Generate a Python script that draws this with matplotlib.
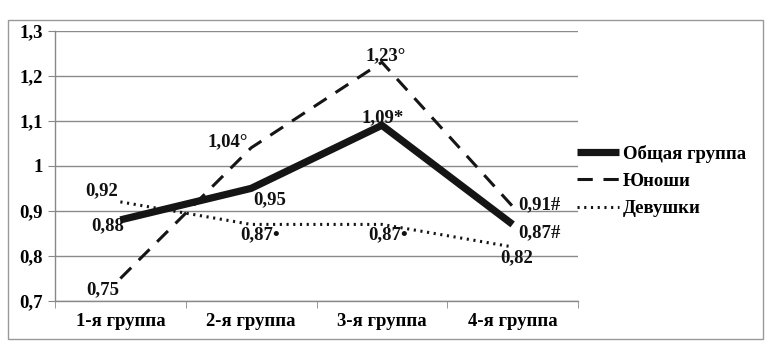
import matplotlib
matplotlib.use("Agg")
import matplotlib.pyplot as plt
from matplotlib.patches import Rectangle

categories = ["1-я группа", "2-я группа", "3-я группа", "4-я группа"]
series_names = ["Общая группа", "Юноши", "Девушки"]
obshaya = [0.88, 0.95, 1.09, 0.87]
yunoshi = [0.75, 1.04, 1.23, 0.91]
devushki = [0.92, 0.87, 0.87, 0.82]
labels_obshaya = ["0,88", "0,95", "1,09*", "0,87#"]
labels_yunoshi = ["0,75", "1,04°", "1,23°", "0,91#"]
labels_devushki = ["0,92", "0,87•", "0,87•", "0,82"]
yticks = [0.7, 0.8, 0.9, 1.0, 1.1, 1.2, 1.3]
ytick_labels = ["0,7", "0,8", "0,9", "1", "1,1", "1,2", "1,3"]

plt.rcParams['font.family'] = ['Liberation Serif', 'DejaVu Serif']
plt.rcParams['font.weight'] = 'bold'
FS = 13.5

fig = plt.figure(figsize=(7.77, 3.51), dpi=100)
ax = fig.add_axes([55/777, 1 - 301/351, (578-55)/777, (301-30.7)/351])

x = list(range(len(categories)))
lc = "#151515"
ax.plot(x, obshaya, color=lc, lw=5.2, solid_capstyle='butt', solid_joinstyle='miter', label=series_names[0], zorder=4)
ax.plot(x, yunoshi, color=lc, lw=2.2, dashes=(5, 3.5), label=series_names[1], zorder=3)
ax.plot(x, devushki, color=lc, lw=2.2, linestyle=(0, (0.7, 1.5)), dash_capstyle='butt', label=series_names[2], zorder=3)

ax.set_xlim(-0.5, len(categories) - 0.5)
ax.set_ylim(0.7, 1.3)
ax.set_yticks(yticks)
ax.set_yticklabels(ytick_labels, fontsize=FS, fontweight='bold')
ax.set_xticks(x)
ax.set_xticklabels(categories, fontsize=FS, fontweight='bold')
ax.set_xticks([i - 0.5 for i in range(len(categories) + 1)], minor=True)
ax.tick_params(axis='x', which='major', length=0, pad=9)
ax.tick_params(axis='x', which='minor', length=5, color='#888888', direction='out')
ax.tick_params(axis='y', length=5, color='#888888', pad=4)
ax.grid(axis='y', color='#8a8a8a', lw=1.0)
ax.set_axisbelow(True)
for s in ['top', 'right']:
    ax.spines[s].set_visible(False)
for s in ['left', 'bottom']:
    ax.spines[s].set_color('#888888')
    ax.spines[s].set_linewidth(1.0)

def label(vals, texts, offsets):
    for i, (v, t, o) in enumerate(zip(vals, texts, offsets)):
        ax.annotate(t, (i, v), xytext=o, textcoords='offset pixels', ha='center', va='center',
                    fontsize=FS, fontweight='bold', color='#111111', zorder=6)

label(obshaya, labels_obshaya, [(-13, -6), (19, -11), (1, 8), (27, -8)])
label(yunoshi, labels_yunoshi, [(-18, -11), (-23, 6), (4, 7), (27, 2)])
label(devushki, labels_devushki, [(-19, 11), (9, -10), (6, -10), (4, -11)])

fig.legend(loc='center left', bbox_to_anchor=(577/777, 1 - 181/351), frameon=False,
           fontsize=FS, handlelength=2.25, handletextpad=0.2, labelspacing=0.55,
           borderpad=0, borderaxespad=0, prop={'weight': 'bold', 'size': FS})

fig.patches.append(Rectangle((8/777, 1 - 339/351), (763-8)/777, (339-20)/351,
                             transform=fig.transFigure, fill=False, edgecolor='#999999', lw=1.0))

fig.savefig("out.png", dpi=100)
